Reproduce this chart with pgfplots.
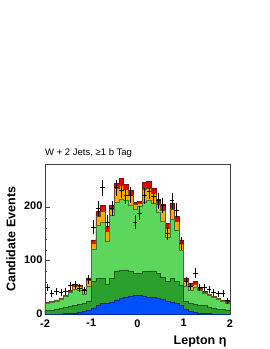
\documentclass[border=0pt]{standalone}
\usepackage{pgfplots}
\pgfplotsset{compat=1.18}
\usepackage{pgfplotstable}
\usepackage{fontspec}
\setmainfont{Liberation Sans}
\definecolor{cblue}{RGB}{0,80,255}
\definecolor{cblueE}{RGB}{0,40,150}
\definecolor{cdg}{RGB}{44,160,44}
\definecolor{cdgE}{RGB}{30,90,30}
\definecolor{clg}{RGB}{92,214,92}
\definecolor{clgE}{RGB}{60,120,60}
\definecolor{cor}{RGB}{255,170,0}
\definecolor{corE}{RGB}{120,70,20}
\definecolor{cred}{RGB}{240,0,0}
\definecolor{credE}{RGB}{110,20,20}
% cumulative stack tops per bin (lower bin edge), last row repeats last bin
\pgfplotstableread{
x B D L O T
-2.0 0.5 7 21 22.3 23
-1.9 0.5 8 22.5 23.8 24.5
-1.8 0.7 9 25 26.3 27
-1.7 1 11 28.5 29.8 30.5
-1.6 1.2 13 34 35.3 36
-1.5 1.5 15 41 43 44
-1.4 2 17 47 52.9 56
-1.3 3 18 45 51.5 55
-1.2 5 21 38 44 47
-1.1 8 25 53 62.7 68
-1.0 12 62 122 133 139
-0.9 17 67 166 183 192
-0.8 20 67 172 193 204
-0.7 21 56 137 155 165
-0.6 23 67 184 196 203
-0.5 27 81 210 236 245
-0.4 30 82 215 240 254
-0.3 31 83 212 233 243
-0.2 33 80 204 222 232
-0.1 36 76 197 205 209
0.0 36 76 201 207 211
0.1 33 80 210 233 246
0.2 31 81 212 235 248
0.3 31 81 208 226 236
0.4 30 76 190 206 214
0.5 28 69 173 194 206
0.6 25 61 143 160 170
0.7 23 67 178 197 208
0.8 21 61 156 173 183
0.9 16 55 120 132 139
1.0 10 24 53 62 67
1.1 6 21 45 53.5 58
1.2 3.5 19 50 57 61
1.3 2 17 45 47 48
1.4 1.5 16 40 41.6 42.5
1.5 1.2 14 35.5 37.1 38
1.6 1 12 31.5 33.1 34
1.7 0.8 10 28 29.6 30.5
1.8 0.6 9 24.5 26.1 27
1.9 0.5 8 21.5 22.8 23.5
2.0 0.5 8 21.5 22.8 23.5
}\stack
\pgfplotstableread{
x y ex ey
-1.95 50 0.05 7.1
-1.85 39 0.05 6.2
-1.75 42 0.05 6.5
-1.65 40 0.05 6.3
-1.55 43 0.05 6.6
-1.45 53 0.05 7.3
-1.35 55 0.05 7.4
-1.25 49 0.05 7.0
-1.15 45 0.05 6.7
-1.05 65 0.05 8.1
-0.95 163 0.05 12.8
-0.85 197 0.05 14.0
-0.75 236 0.05 15.4
-0.65 172 0.05 13.1
-0.55 197 0.05 14.0
-0.45 236 0.05 15.4
-0.35 232 0.05 15.2
-0.25 221 0.05 14.9
-0.15 222 0.05 14.9
-0.05 172 0.05 13.1
0.05 189 0.05 13.7
0.15 221 0.05 14.9
0.25 230 0.05 15.2
0.35 220 0.05 14.8
0.45 212 0.05 14.6
0.55 203 0.05 14.2
0.65 151 0.05 12.3
0.75 212 0.05 14.6
0.85 193 0.05 13.9
0.95 132 0.05 11.5
1.05 61 0.05 7.8
1.15 52 0.05 7.2
1.25 77 0.05 8.8
1.35 50 0.05 7.1
1.45 50 0.05 7.1
1.55 46 0.05 6.8
1.65 40 0.05 6.3
1.75 38 0.05 6.2
1.85 39 0.05 6.2
1.95 25 0.05 5.0
}\data
\begin{document}
\begin{tikzpicture}
\path[use as bounding box] (0,0) rectangle (270pt,349pt);
\begin{axis}[
  at={(45pt,34.7pt)}, anchor=south west,
  scale only axis, width=185pt, height=150pt,
  xmin=-2, xmax=2, ymin=0, ymax=280,
  axis line style={black!75, line width=0.6pt},
  tick align=inside, xtick pos=bottom, ytick pos=left,
  xtick={-2,-1,0,1,2}, xticklabels={-2,-1,0,1,2},
  minor x tick num=9,
  ytick={0,100,200}, yticklabels={0,100,200},
  minor y tick num=4,
  major tick length=5pt, minor tick length=2.5pt,
  tick style={black!75, line width=0.5pt},
  ticklabel style={font=\fontsize{11}{13}\selectfont\bfseries},
  xticklabel style={yshift=-1.5pt},
  yticklabel style={xshift=1pt, yshift=1pt},
  xlabel={Lepton η}, ylabel={Candidate Events},
  label style={font=\fontsize{12.5}{14}\selectfont\bfseries},
  xlabel style={at={(axis description cs:1,-0.18)}, anchor=east},
  ylabel style={at={(axis description cs:-0.184,0.5)}, anchor=center},
  title={W + 2 Jets, ≥1 b Tag},
  title style={at={(axis description cs:0,1)}, anchor=base west, inner sep=0pt, yshift=2.5pt, font=\fontsize{9.5}{11}\selectfont},
  clip=true,
]
\addplot[const plot, fill=cred, draw=credE, line width=0.5pt] table[x=x,y=T] {\stack} \closedcycle;
\addplot[const plot, fill=cor, draw=corE, line width=0.5pt] table[x=x,y=O] {\stack} \closedcycle;
\addplot[const plot, fill=clg, draw=clgE, line width=0.5pt] table[x=x,y=L] {\stack} \closedcycle;
\addplot[const plot, fill=cdg, draw=cdgE, line width=0.5pt] table[x=x,y=D] {\stack} \closedcycle;
\addplot[const plot, fill=cblue, draw=cblueE, line width=0.5pt] table[x=x,y=B] {\stack} \closedcycle;
\addplot[black, only marks, mark=*, mark size=0pt,
  error bars/.cd, x dir=both, x explicit, y dir=both, y explicit,
  error mark=none, error bar style={line width=0.9pt, black}]
  table[x=x,y=y,x error=ex,y error=ey] {\data};
\end{axis}
\end{tikzpicture}
\end{document}
